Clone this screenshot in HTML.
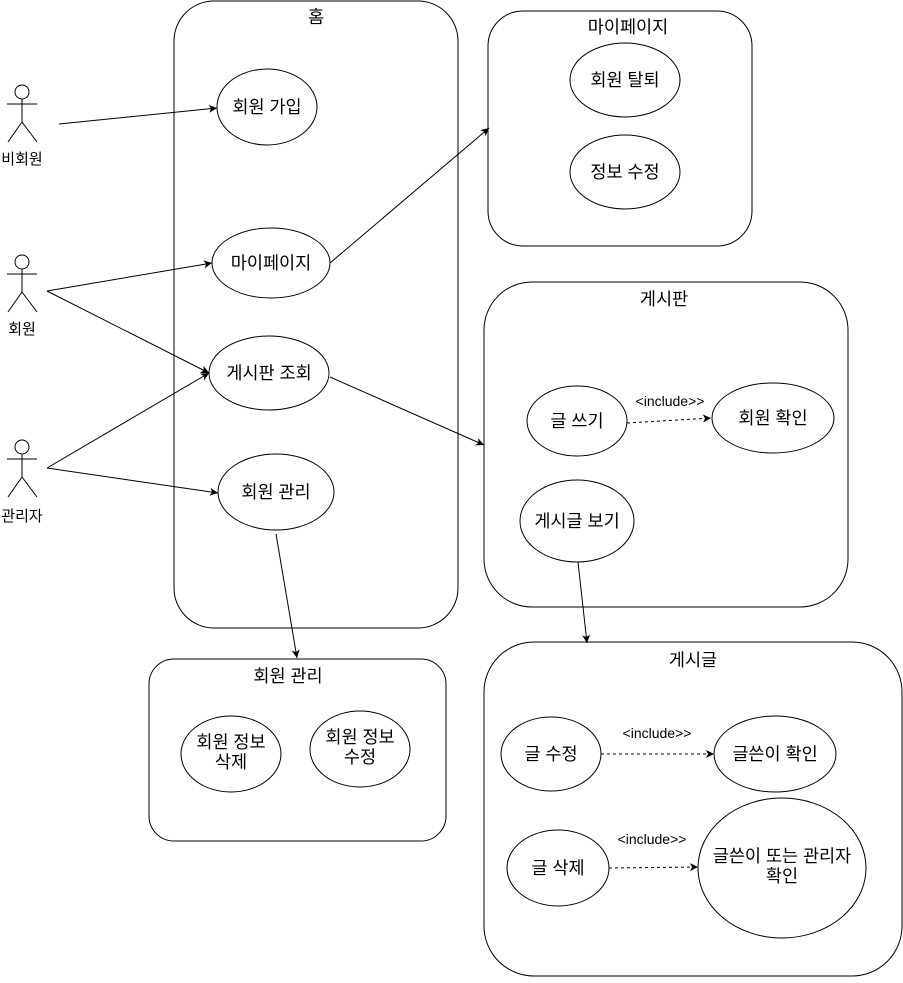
<!DOCTYPE html>
<html><head><meta charset="utf-8"><style>
body{margin:0;background:#fff}
svg text{font-family:"Liberation Sans","Noto Sans CJK KR",sans-serif;fill:#000}
</style></head><body>
<svg width="903" height="978" viewBox="0 0 903 978" xmlns="http://www.w3.org/2000/svg">
<defs>
<marker id="a" markerWidth="10" markerHeight="10" refX="9" refY="5" orient="auto" markerUnits="userSpaceOnUse"><path d="M1,1 L9,5 L1,9 L3,5 Z" fill="#000"/></marker>
</defs>
<g fill="none" stroke="#000" stroke-width="1">
<rect x="174" y="1" width="284" height="627" rx="40"/>
<rect x="488" y="11" width="264" height="235" rx="35"/>
<rect x="484" y="282" width="364" height="325" rx="48"/>
<rect x="149" y="659" width="297" height="182" rx="25"/>
<rect x="484" y="642" width="418" height="334" rx="50"/>
<ellipse cx="267" cy="107" rx="50" ry="38"/>
<ellipse cx="271" cy="263" rx="59" ry="35"/>
<ellipse cx="269" cy="373" rx="60" ry="37"/>
<ellipse cx="276" cy="492" rx="58" ry="38"/>
<ellipse cx="625" cy="80" rx="55" ry="37"/>
<ellipse cx="625" cy="172" rx="55" ry="37"/>
<ellipse cx="577" cy="421" rx="50" ry="35"/>
<ellipse cx="773" cy="418" rx="61" ry="35"/>
<ellipse cx="577" cy="521" rx="57" ry="41"/>
<ellipse cx="231" cy="754" rx="50" ry="38"/>
<ellipse cx="360" cy="749" rx="50" ry="38"/>
<ellipse cx="551" cy="754" rx="50" ry="37"/>
<ellipse cx="775" cy="754" rx="61" ry="38"/>
<ellipse cx="558" cy="868" rx="51" ry="38"/>
<ellipse cx="782" cy="868" rx="84" ry="70"/>
<g id="act">
<circle cx="22" cy="92" r="7"/>
<line x1="22" y1="99" x2="22" y2="122"/>
<line x1="7" y1="104" x2="37" y2="104"/>
<line x1="22" y1="122" x2="8" y2="142"/>
<line x1="22" y1="122" x2="37" y2="142"/>
</g>
<use href="#act" y="170"/>
<use href="#act" y="355"/>
<g marker-end="url(#a)">
<line x1="59" y1="124" x2="217" y2="108"/>
<line x1="47" y1="291" x2="212" y2="263"/>
<line x1="47" y1="291" x2="209" y2="373"/>
<line x1="47" y1="468" x2="209" y2="373"/>
<line x1="47" y1="468" x2="218" y2="493"/>
<line x1="330" y1="263" x2="489" y2="128"/>
<line x1="330" y1="377" x2="484" y2="445"/>
<line x1="276" y1="534" x2="297" y2="658"/>
<line x1="578" y1="562" x2="587" y2="643"/>
</g>
<g stroke-dasharray="3,3" marker-end="url(#a)">
<line x1="627" y1="423" x2="711" y2="418"/>
<line x1="601" y1="754" x2="714" y2="754"/>
<line x1="609" y1="868" x2="698" y2="867"/>
</g>
</g>
<g font-size="17.5" text-anchor="middle">
<text x="316" y="23">홈</text>
<text x="628" y="33">마이페이지</text>
<text x="664" y="305">게시판</text>
<text x="288" y="682">회원 관리</text>
<text x="693" y="666">게시글</text>
<text x="267" y="113">회원 가입</text>
<text x="271" y="269">마이페이지</text>
<text x="269" y="379">게시판 조회</text>
<text x="276" y="498">회원 관리</text>
<text x="625" y="86">회원 탈퇴</text>
<text x="625" y="178">정보 수정</text>
<text x="577" y="427">글 쓰기</text>
<text x="773" y="424">회원 확인</text>
<text x="577" y="527">게시글 보기</text>
<text x="231" y="748">회원 정보</text><text x="231" y="768">삭제</text>
<text x="360" y="743">회원 정보</text><text x="360" y="763">수정</text>
<text x="551" y="760">글 수정</text>
<text x="775" y="760">글쓴이 확인</text>
<text x="558" y="874">글 삭제</text>
<text x="782" y="862">글쓴이 또는 관리자</text><text x="782" y="882">확인</text>
</g>
<g font-size="15" text-anchor="middle">
<text x="22" y="164">비회원</text>
<text x="22" y="334">회원</text>
<text x="22" y="521">관리자</text>
</g>
<g font-size="14" text-anchor="middle">
<text x="670" y="406">&lt;include&gt;&gt;</text>
<text x="657" y="738">&lt;include&gt;&gt;</text>
<text x="652" y="844">&lt;include&gt;&gt;</text>
</g>
</svg>
</body></html>
